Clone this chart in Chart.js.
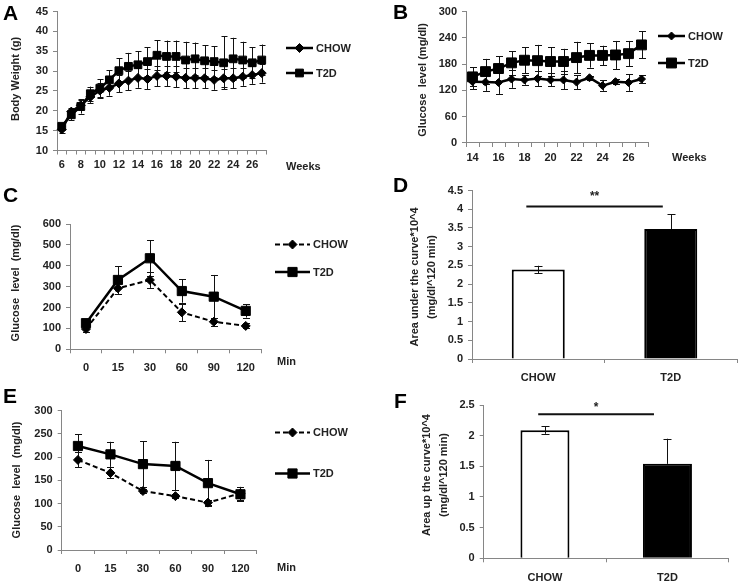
<!DOCTYPE html>
<html><head><meta charset="utf-8">
<script src="https://cdn.jsdelivr.net/npm/chart.js@4/dist/chart.umd.min.js"></script>
<style>
html,body{margin:0;padding:0;background:#fff;}
#wrap{position:relative;width:744px;height:588px;overflow:hidden;font-family:"Liberation Sans",Arial,sans-serif;}
#wrap canvas{position:absolute;left:0;top:0;}
.t{position:absolute;font-weight:bold;color:#222;font-size:11px;line-height:14px;white-space:nowrap;}
.rot{transform:translate(-50%,-50%) rotate(-90deg);text-align:center;line-height:17px;}
.pl{position:absolute;font-weight:bold;font-size:21px;line-height:20px;color:#000;}
</style></head><body><div id="wrap">
<canvas id="cA" width="744" height="588"></canvas>
<canvas id="cB" width="744" height="588"></canvas>
<canvas id="cC" width="744" height="588"></canvas>
<canvas id="cD" width="744" height="588"></canvas>
<canvas id="cE" width="744" height="588"></canvas>
<canvas id="cF" width="744" height="588"></canvas>
<div class="pl" style="left:3px;top:3px">A</div>
<div class="pl" style="left:393px;top:2px">B</div>
<div class="pl" style="left:3px;top:185px">C</div>
<div class="pl" style="left:393px;top:175px">D</div>
<div class="pl" style="left:3px;top:386px">E</div>
<div class="pl" style="left:394px;top:391px">F</div>
<div class="t" style="left:286px;top:159px">Weeks</div>
<div class="t" style="left:672px;top:150px">Weeks</div>
<div class="t" style="left:277px;top:354px">Min</div>
<div class="t" style="left:277px;top:560px">Min</div>
<div class="t rot" style="left:15px;top:79px">Body Weight (g)</div>
<div class="t rot" style="left:422px;top:80px">Glucose&nbsp; level (mg/dl)</div>
<div class="t rot" style="left:15px;top:283px">Glucose&nbsp; level&nbsp; (mg/dl)</div>
<div class="t rot" style="left:423px;top:277px">Area under the curve*10^4<br>(mg/dl^120 min)</div>
<div class="t rot" style="left:16px;top:480px">Glucose&nbsp; level&nbsp; (mg/dl)</div>
<div class="t rot" style="left:435px;top:475px">Area up the curve*10^4<br>(mg/dl^120 min)</div>
</div>
<script>
// ---------- DATA ----------
const weeksA = ['6','7','8','9','10','11','12','13','14','15','16','17','18','19','20','21','22','23','24','25','26','27'];
const bwChow   = [15.3,19.8,21.4,23.5,25.1,25.8,26.9,27.6,28.3,28.0,28.8,28.8,28.6,28.3,28.3,28.2,27.8,28.2,28.2,28.6,29.0,29.5];
const bwChowSd = [0.8,1.0,1.2,1.5,1.8,2.0,2.2,2.4,2.5,2.5,2.6,2.6,2.6,2.6,2.6,2.5,2.5,2.3,2.5,2.3,2.2,2.4];
const bwT2d    = [16.1,19.0,21.1,24.3,25.7,27.8,30.1,31.2,31.6,32.4,34.0,33.7,33.7,32.8,33.1,32.6,32.4,32.1,33.1,32.8,32.1,32.8];
const bwT2dSd  = [0.8,1.3,1.8,1.8,2.3,2.4,3.2,3.4,3.4,3.6,3.8,4.0,4.0,4.6,4.1,3.9,3.9,6.7,5.3,4.6,3.9,3.9];

const weeksB = ['14','15','16','17','18','19','20','21','22','23','24','25','26','27'];
const bgChow   = [140,139,138,146,144,147,144,144,139,149,131,140,138,146];
const bgChowSd = [17,20,26,20,11,17,15,21,16,5,12,6,19,9];
const bgT2d    = [151,163,170,183,189,188,186,186,195,200,200,201,204,224];
const bgT2dSd  = [22,29,28,27,30,36,33,29,36,28,22,32,29,31];

const minutes = ['0','15','30','60','90','120'];
const gttChow   = [97,292,332,177,132,112];
const gttChowSd = [12,29,38,42,19,12];
const gttT2d    = [125,332,436,279,252,184];
const gttT2dSd  = [15,65,85,56,104,32];

const groups = ['CHOW','T2D'];
const aucVals = [2.39,3.47];
const aucSd   = [0.10,0.40];

const ittChow   = [194,166,127,116,102,122];
const ittChowSd = [16,12,5,5,5,14];
const ittT2d    = [224,206,185,181,144,120];
const ittT2dSd  = [25,27,49,52,50,15];

const aacVals = [2.09,1.54];
const aacSd   = [0.06,0.41];

// ---------- PLUGINS ----------
function drawErr(chart, o) {
  const ctx = chart.ctx, ys = chart.scales.y;
  chart.data.datasets.forEach((ds, di) => {
    if (!ds.errors) return;
    const meta = chart.getDatasetMeta(di);
    ctx.save();
    ctx.strokeStyle = o.color || '#111';
    ctx.lineWidth = o.width || 1;
    ctx.setLineDash([]);
    meta.data.forEach((el, i) => {
      const v = ds.data[i], e = ds.errors[i];
      if (e == null) return;
      const upOnly = ds.upOnly && ds.upOnly[i];
      const x = Math.round(el.x) + 0.5;
      const yt = ys.getPixelForValue(v + e), yb = ys.getPixelForValue(upOnly ? v : v - e);
      const c = (o.cap || 6) / 2;
      ctx.beginPath();
      ctx.moveTo(x, yt); ctx.lineTo(x, yb);
      ctx.moveTo(x - c, Math.round(yt) + 0.5); ctx.lineTo(x + c, Math.round(yt) + 0.5);
      if (!upOnly) { ctx.moveTo(x - c, Math.round(yb) + 0.5); ctx.lineTo(x + c, Math.round(yb) + 0.5); }
      ctx.stroke();
    });
    ctx.restore();
  });
}
const errPlugin = {
  id: 'errbars',
  beforeDatasetsDraw(chart, a, o) { if (o && o.layer === 'before') drawErr(chart, o); },
  afterDatasetsDraw(chart, a, o) { if (o && o.layer === 'after') drawErr(chart, o); }
};
const legPlugin = {
  id: 'xlegend',
  afterDraw(chart, a, o) {
    if (!o || !o.show) return;
    const ctx = chart.ctx;
    chart.data.datasets.forEach((ds, i) => {
      const y = o.y + i * o.gap;
      ctx.save();
      ctx.strokeStyle = ds.borderColor; ctx.lineWidth = ds.borderWidth;
      ctx.setLineDash(ds.borderDash || []);
      ctx.beginPath(); ctx.moveTo(o.x, y); ctx.lineTo(o.x + o.len, y); ctx.stroke();
      ctx.setLineDash([]);
      ctx.fillStyle = ds.pointBackgroundColor; ctx.strokeStyle = ds.pointBorderColor; ctx.lineWidth = 1;
      Chart.helpers.drawPoint(ctx, {pointStyle: ds.pointStyle, radius: ds.pointRadius, borderWidth: 1}, o.x + o.len / 2, y);
      ctx.fillStyle = '#222';
      ctx.font = 'bold 11px "Liberation Sans", Arial, sans-serif';
      ctx.textBaseline = 'middle'; ctx.textAlign = 'left';
      ctx.fillText(ds.label, o.x + o.len + 3, y + 0.5);
      ctx.restore();
    });
  }
};
const sigPlugin = {
  id: 'sig',
  afterDatasetsDraw(chart, a, o) {
    if (!o || !o.show) return;
    const ctx = chart.ctx, xs = chart.scales.x, ys = chart.scales.y;
    const x1 = xs.getPixelForValue(o.from), x2 = xs.getPixelForValue(o.to);
    const y = ys.getPixelForValue(o.level);
    ctx.save();
    ctx.strokeStyle = '#111'; ctx.lineWidth = 2;
    ctx.beginPath(); ctx.moveTo(x1, y); ctx.lineTo(x2, y); ctx.stroke();
    ctx.fillStyle = '#222';
    ctx.font = 'bold 12px "Liberation Sans", Arial, sans-serif';
    ctx.textAlign = 'center'; ctx.textBaseline = 'middle';
    ctx.fillText(o.text, (x1 + x2) / 2, ys.getPixelForValue(o.textLevel));
    ctx.restore();
  }
};
Chart.register(errPlugin, legPlugin, sigPlugin);

// ---------- COMMON ----------
const FONT = {family: '"Liberation Sans", Arial, sans-serif', size: 11, weight: 'bold'};
const AX = '#868686';
function build(id, type, labels, datasets, area, yopt, xpad, plugins, extra) {
  const yw = 40, xh = 34;
  const cfg = {
    type,
    data: {labels, datasets},
    options: Object.assign({
      responsive: false, animation: false, devicePixelRatio: 1,
      events: [],
      layout: {padding: {left: area.l - yw, top: area.t, right: 744 - area.r, bottom: 588 - area.b - xh}},
      plugins: Object.assign({legend: {display: false}, tooltip: {enabled: false}}, plugins),
      scales: {
        x: {
          offset: true,
          grid: {offset: true, drawOnChartArea: false, drawTicks: true, tickLength: 4, color: AX},
          border: {color: AX, width: 1},
          ticks: Object.assign({autoSkip: false, maxRotation: 0, padding: xpad, color: '#222', font: FONT}, extra && extra.xticks || {}),
          afterFit: s => { s.height = xh; }
        },
        y: {
          min: yopt.min, max: yopt.max,
          grid: {drawOnChartArea: false, drawTicks: true, tickLength: 4, color: AX},
          border: {color: AX, width: 1},
          ticks: {stepSize: yopt.step, padding: 5, color: '#222', font: FONT, callback: v => String(Math.round(v * 100) / 100)},
          afterFit: s => { s.width = yw; }
        }
      }
    }, extra && extra.opts || {})
  };
  return new Chart(document.getElementById(id), cfg);
}
function lineDs(label, data, errors, style, radius, dashed) {
  return {
    label, data, errors,
    borderColor: '#000', backgroundColor: '#000',
    borderWidth: dashed ? 2 : 2.5, borderDash: dashed ? [5, 3] : [],
    pointStyle: style, pointRadius: radius,
    pointBackgroundColor: '#000', pointBorderColor: '#000', pointBorderWidth: 1,
    tension: 0, fill: false
  };
}
const evenOnly = function(v, i) { return i % 2 === 0 ? this.getLabelForValue(v) : ''; };

// A
build('cA', 'line', weeksA,
  [lineDs('CHOW', bwChow, bwChowSd, 'rectRot', 4.5, false),
   lineDs('T2D', bwT2d, bwT2dSd, 'rect', 5.5, false)],
  {l: 57, r: 266.5, t: 10, b: 150.5}, {min: 10, max: 45, step: 5}, 4,
  {errbars: {layer: 'before', cap: 6}, xlegend: {show: true, x: 286, y: 48, gap: 25, len: 27}},
  {xticks: {callback: evenOnly}});

// B
build('cB', 'line', weeksB,
  [lineDs('CHOW', bgChow, bgChowSd, 'rectRot', 4, false),
   lineDs('T2D', bgT2d, bgT2dSd, 'rect', 7, false)],
  {l: 466, r: 648, t: 10, b: 143}, {min: 0, max: 300, step: 60}, 4,
  {errbars: {layer: 'before', cap: 7}, xlegend: {show: true, x: 658, y: 36, gap: 27, len: 27}},
  {xticks: {callback: evenOnly}});

// C
build('cC', 'line', minutes,
  [lineDs('CHOW', gttChow, gttChowSd, 'rectRot', 4.5, true),
   lineDs('T2D', gttT2d, gttT2dSd, 'rect', 6.5, false)],
  {l: 70, r: 261.7, t: 224, b: 349.3}, {min: 0, max: 600, step: 100}, 8,
  {errbars: {layer: 'before', cap: 7}, xlegend: {show: true, x: 275, y: 244.5, gap: 27.5, len: 35}});

// D
build('cD', 'bar', groups,
  [{label: 'AUC', data: aucVals, errors: aucSd, upOnly: [false, true],
    backgroundColor: ['#ffffff', '#000000'], borderColor: '#000', borderWidth: 2,
    barPercentage: 0.4, categoryPercentage: 1}],
  {l: 472, r: 737, t: 190.5, b: 359}, {min: 0, max: 4.5, step: 0.5}, 8,
  {errbars: {layer: 'after', cap: 8}, sig: {show: true, from: -0.09, to: 0.94, level: 4.07, textLevel: 4.33, text: '**'}});

// E
build('cE', 'line', minutes,
  [lineDs('CHOW', ittChow, ittChowSd, 'rectRot', 4.5, true),
   lineDs('T2D', ittT2d, ittT2dSd, 'rect', 6.5, false)],
  {l: 61.7, r: 256.7, t: 410.7, b: 550}, {min: 0, max: 300, step: 50}, 8,
  {errbars: {layer: 'before', cap: 7}, xlegend: {show: true, x: 275, y: 432.5, gap: 41, len: 35}});

// F
build('cF', 'bar', groups,
  [{label: 'AAC', data: aacVals, errors: aacSd, upOnly: [false, true],
    backgroundColor: ['#ffffff', '#000000'], borderColor: '#000', borderWidth: 2,
    barPercentage: 0.4, categoryPercentage: 1}],
  {l: 483.7, r: 728.7, t: 405, b: 558.3}, {min: 0, max: 2.5, step: 0.5}, 9,
  {errbars: {layer: 'after', cap: 8}, sig: {show: true, from: -0.055, to: 0.89, level: 2.35, textLevel: 2.46, text: '*'}});
</script>
</body></html>
